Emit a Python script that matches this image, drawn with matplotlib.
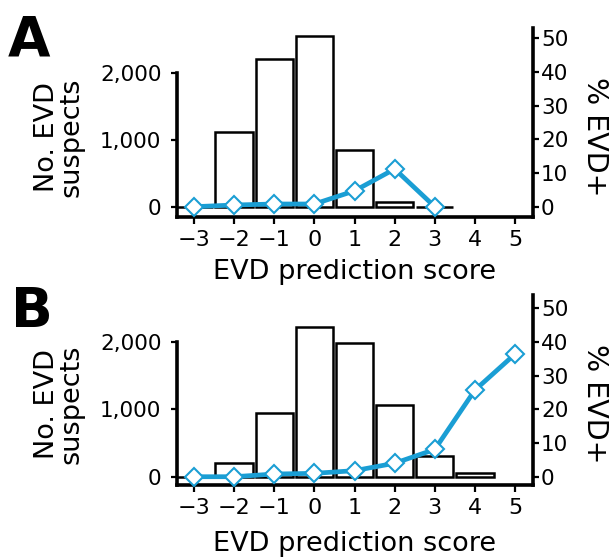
import numpy as np
import matplotlib
matplotlib.use("Agg")
import matplotlib.pyplot as plt

plt.rcParams['font.family'] = ['DejaVu Sans']

scores = [-3, -2, -1, 0, 1, 2, 3, 4, 5]

# panel A
scores_a = [-3, -2, -1, 0, 1, 2, 3]
suspects_a = [0, 1120, 2220, 2560, 850, 70, 0]
pct_a = [0.0, 0.5, 0.8, 0.8, 4.7, 11.2, 0.0]

# panel B
scores_b = [-3, -2, -1, 0, 1, 2, 3, 4]
suspects_b = [0, 200, 940, 2220, 1980, 1060, 300, 55]
pct_scores_b = [-3, -2, -1, 0, 1, 2, 3, 4, 5]
pct_b = [0.0, 0.0, 0.8, 1.0, 1.8, 4.0, 8.1, 25.7, 36.4]

left_ticks = [0, 1000, 2000]
left_labels = ['0', '1,000', '2,000']
right_ticks = [0, 10, 20, 30, 40, 50]

blue = '#1a9ed4'
tick_fs = 15.5
label_fs = 19.5

fig = plt.figure(figsize=(6.11, 5.58), dpi=100)


def panel(rect, xs, counts, pxs, pcts, ylim_l, ylim_r, letter, letter_xy, ylab_y, xlab_y):
    ax = fig.add_axes(rect)
    ax.bar(xs, counts, width=0.93, color='white', edgecolor='black', linewidth=1.8)
    ax.set_xlim(-3.43, 5.44)
    ax.set_ylim(*ylim_l)
    ax.set_yticks(left_ticks)
    ax.set_yticklabels(left_labels)
    ax.set_xticks(scores)
    ax.set_xticklabels([str(s).replace('-', '\u2212') for s in scores])
    ax.spines['top'].set_visible(False)
    ax.spines['right'].set_visible(False)
    ax.spines['left'].set_bounds(ylim_l[0], 2000)
    for s in ('left', 'bottom'):
        ax.spines[s].set_linewidth(2.6)
    ax.tick_params(axis='y', labelsize=tick_fs, width=1.6, length=4, pad=7)
    ax.tick_params(axis='x', labelsize=tick_fs + 0.5, width=1.6, length=5, pad=4)

    ax2 = ax.twinx()
    ax2.set_ylim(*ylim_r)
    ax2.set_yticks(right_ticks)
    ax2.plot(pxs, pcts, color=blue, linewidth=3.4, marker='D', markersize=9,
             markerfacecolor='white', markeredgecolor=blue, markeredgewidth=1.5,
             clip_on=False, zorder=3)
    for s in ('top', 'left', 'bottom'):
        ax2.spines[s].set_visible(False)
    ax2.spines['right'].set_linewidth(2.6)
    ax2.tick_params(axis='y', labelsize=tick_fs, width=1.6, length=4, pad=2)

    fig.text(59 / 611, 1 - ylab_y / 558, 'No. EVD\nsuspects', fontsize=label_fs,
             rotation=90, ha='center', va='center', linespacing=0.95)
    fig.text(595 / 611, 1 - ylab_y / 558, '% EVD+', fontsize=label_fs + 1,
             rotation=-90, ha='center', va='center')
    fig.text(354.7 / 611, 1 - xlab_y / 558, 'EVD prediction score', fontsize=label_fs,
             ha='center', va='baseline')
    fig.text(letter_xy[0] / 611, 1 - letter_xy[1] / 558, letter, fontsize=39.5,
             fontweight='bold', ha='left', va='baseline')
    return ax


panel([0.2892, 0.6111, 0.5827, 0.3392], scores_a, suspects_a, scores_a, pct_a,
      (-155, 2684), (-3.06, 53.15), 'A', (8, 55), 137, 279)
panel([0.2892, 0.1308, 0.5827, 0.3405], scores_b, suspects_b, pct_scores_b, pct_b,
      (-123, 2692), (-2.46, 53.9), 'B', (11, 327), 404, 551)

fig.savefig('out.png', dpi=100)
